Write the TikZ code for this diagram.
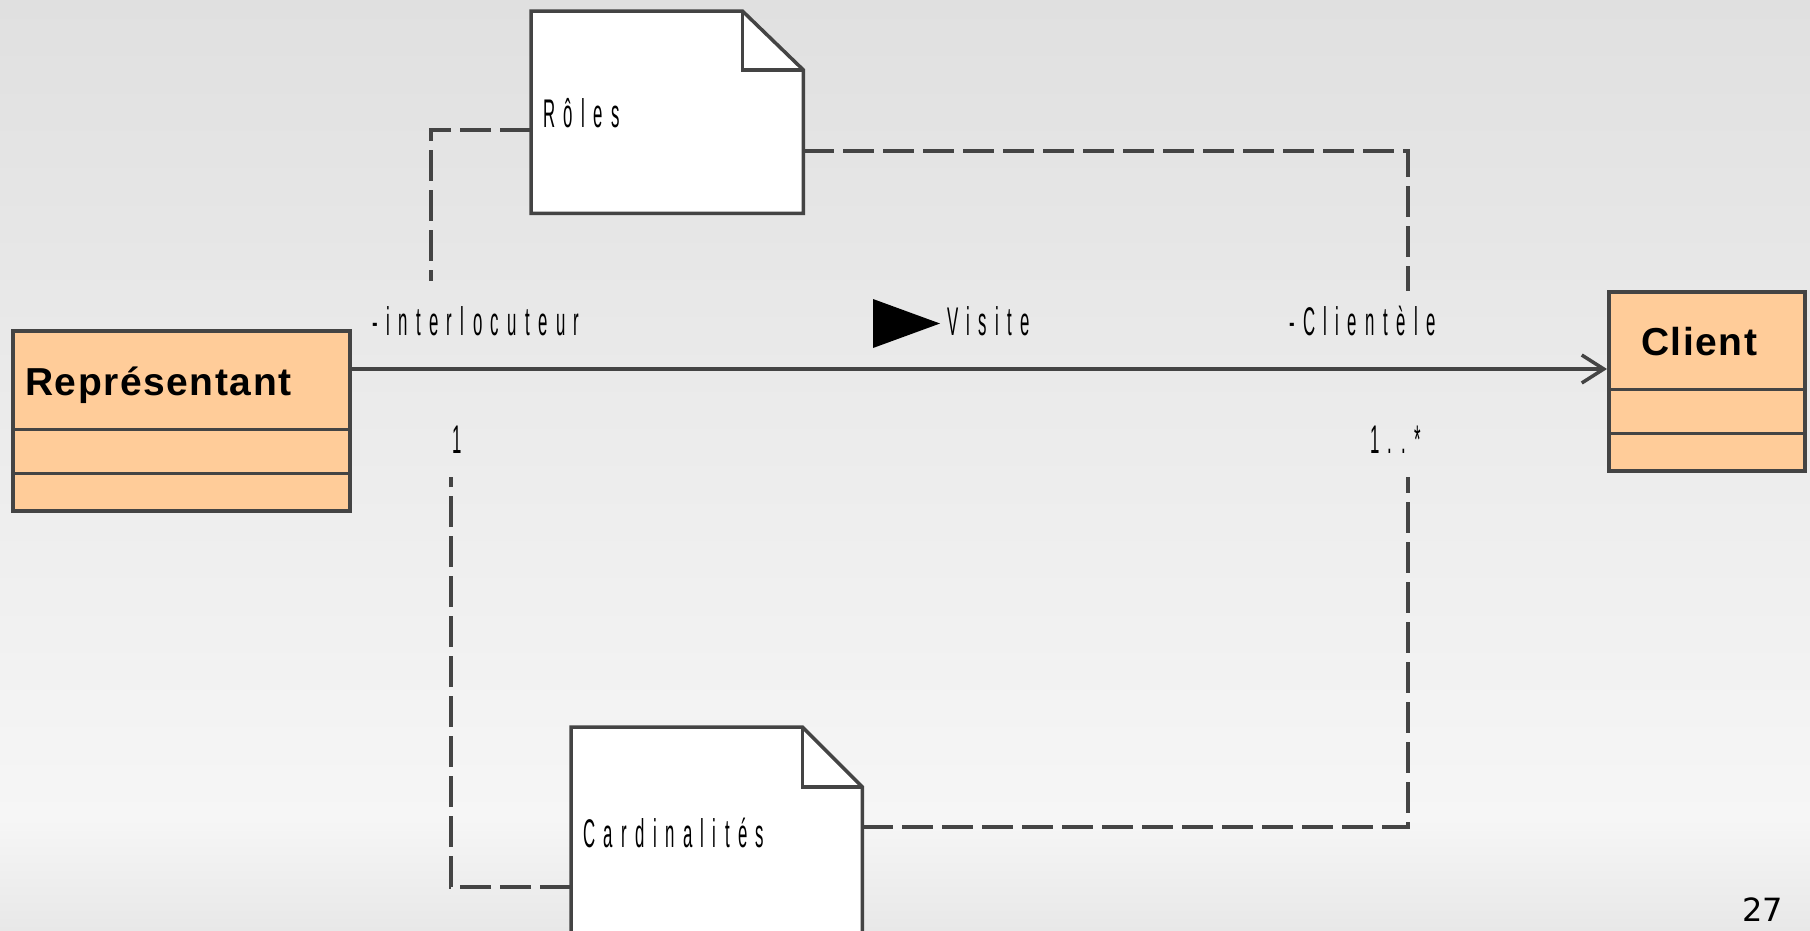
\documentclass[tikz,border=0pt]{standalone}
\usepackage{fontspec}
\setmainfont{Liberation Sans}
\newfontfamily\narrowfont[FakeStretch=0.42,LetterSpace=21]{Liberation Sans}
\newfontfamily\clsfont[LetterSpace=4]{Liberation Sans}
\newfontfamily\numfont{DejaVu Sans}
\usetikzlibrary{arrows.meta}
\definecolor{linecol}{RGB}{68,68,68}
\definecolor{classfill}{RGB}{255,204,153}
\definecolor{bgtop}{RGB}{224,224,224}
\definecolor{bglight}{RGB}{246,246,246}
\definecolor{bgbot}{RGB}{232,232,232}
\tikzset{
  solidline/.style={draw=linecol, line width=3pt},
  dashconn/.style={draw=linecol, line width=3.5pt, dash pattern=on 31pt off 9pt},
  classbox/.style={draw=linecol, line width=3.5pt, fill=classfill, rectangle, inner sep=0pt, anchor=north west},
  notebox/.style={rectangle, inner sep=0pt, anchor=north west},
  noteoutline/.style={draw=linecol, line width=3.5pt, fill=white, line join=miter},
  lbl/.style={font=\narrowfont\fontsize{40}{46}\selectfont, anchor=base west, inner sep=0pt, text=black},
  clsname/.style={font=\clsfont\bfseries\fontsize{39}{45}\selectfont, anchor=base west, inner sep=0pt, text=black}
}
\begin{document}
\begin{tikzpicture}[x=1pt,y=-1pt]
\useasboundingbox (0,0) rectangle (1810,930);
\clip (0,0) rectangle (1810,930);
% background
\fill[top color=bgtop, bottom color=bglight] (0,0) rectangle (1810,820);
\fill[top color=bglight, bottom color=bgbot] (0,819) rectangle (1810,930);

% classes
\node[classbox, minimum width=337pt, minimum height=180pt] (rep) at (11,329) {};
\draw[solidline] (rep.west |- 0,429) -- (rep.east |- 0,429);
\draw[solidline] (rep.west |- 0,473) -- (rep.east |- 0,473);
\node[clsname] (repname) at (25,395) {Représentant};

\node[classbox, minimum width=196pt, minimum height=179pt] (cli) at (1607,290) {};
\draw[solidline] (cli.west |- 0,389) -- (cli.east |- 0,389);
\draw[solidline] (cli.west |- 0,433) -- (cli.east |- 0,433);
\node[clsname] (cliname) at (1641,355) {Client};

% notes
\node[notebox, minimum width=272pt, minimum height=202pt] (roles) at (531,11) {};
\filldraw[noteoutline] (roles.north west) -- ([xshift=-61pt]roles.north east) -- ([yshift=-59pt]roles.north east) -- (roles.south east) -- (roles.south west) -- cycle;
\draw[noteoutline, fill=none] ([xshift=-61pt]roles.north east) -- ++(0,59) -- ([yshift=-59pt]roles.north east);
\node[lbl] (rolestext) at (543,127) {Rôles};

\node[notebox, minimum width=291pt, minimum height=240pt] (card) at (571,727) {};
\filldraw[noteoutline] (card.north west) -- ([xshift=-60pt]card.north east) -- ([yshift=-60pt]card.north east) -- (card.south east) -- (card.south west) -- cycle;
\draw[noteoutline, fill=none] ([xshift=-60pt]card.north east) -- ++(0,60) -- ([yshift=-60pt]card.north east);
\node[lbl] (cardtext) at (583,847) {Cardinalités};

% note connectors
\coordinate (rolesL) at (431,281);
\coordinate (rolesR) at (1408,291);
\coordinate (cardL) at (451,477);
\coordinate (cardR) at (1408,477);
\draw[dashconn] (roles.west |- 0,130) -| (rolesL);
\draw[dashconn] (roles.east |- 0,151) -| (rolesR);
\draw[dashconn] (card.west |- 0,887) -| (cardL);
\draw[dashconn] (card.east |- 0,827) -| (cardR);

% association
\draw[solidline, line width=3.5pt, -{Straight Barb[length=22pt,width=28pt]}] (rep.east |- 0,369) -- (cli.west |- 0,369);
\fill[black] (873,299) -- (873,348) -- (940,323.5) -- cycle;

% labels
\node[lbl] (interloc) at (372,335) {-interlocuteur};
\node[lbl] (mult1) at (452,453) {1};
\node[lbl] (visite) at (947,335) {Visite};
\node[lbl] (clientele) at (1289,335) {-Clientèle};
\node[lbl] (multn) at (1370,453) {1..*};

\node[font=\numfont\fontsize{32}{36}\selectfont, anchor=base west, inner sep=0pt] (page) at (1742,921) {27};
\end{tikzpicture}
\end{document}
